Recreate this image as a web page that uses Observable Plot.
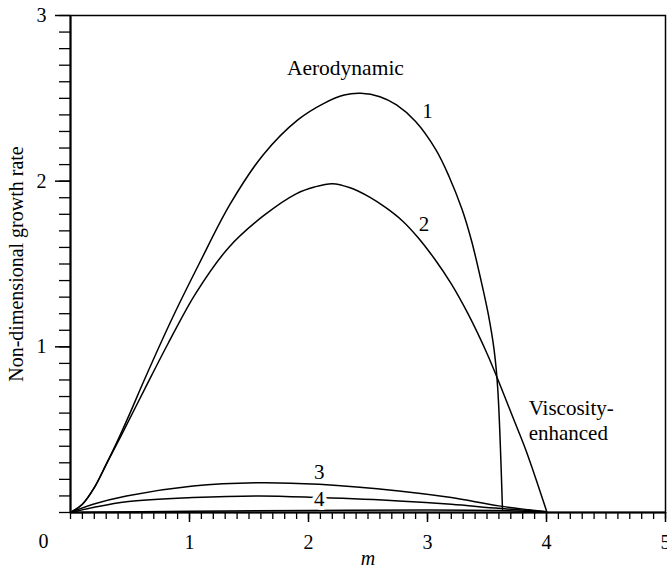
<!DOCTYPE html>
<html>
<head>
<meta charset="utf-8">
<script src="https://cdn.jsdelivr.net/npm/d3@7"></script>
<script src="https://cdn.jsdelivr.net/npm/@observablehq/plot@0.6"></script>
<style>
  html, body { margin: 0; padding: 0; background: #fff; }
  #chart { width: 667px; height: 567px; }
</style>
</head>
<body>
<div id="chart"></div>
<script>
// Curve 1 (aerodynamic, upper)
const curve1M = [0, 0.1, 0.2, 0.3, 0.4, 0.5, 0.62, 0.86, 1.08, 1.34, 1.62, 1.91, 2.13, 2.3, 2.44, 2.6, 2.74, 2.9, 3.07, 3.18, 3.29, 3.37, 3.45, 3.51, 3.56, 3.59, 3.63];
const curve1G = [0, 0.05, 0.15, 0.29, 0.44, 0.60, 0.80, 1.18, 1.50, 1.86, 2.16, 2.37, 2.47, 2.52, 2.53, 2.51, 2.46, 2.36, 2.19, 2.03, 1.83, 1.64, 1.40, 1.20, 0.98, 0.75, 0.02];
// Curve 2
const curve2M = [0, 0.1, 0.2, 0.3, 0.43, 0.62, 0.82, 1.05, 1.33, 1.62, 1.90, 2.05, 2.2, 2.35, 2.51, 2.65, 2.79, 2.92, 3.06, 3.2, 3.34, 3.50, 3.61, 3.72, 3.83, 4.0];
const curve2G = [0, 0.05, 0.15, 0.29, 0.47, 0.74, 1.02, 1.32, 1.60, 1.79, 1.925, 1.965, 1.985, 1.96, 1.905, 1.84, 1.76, 1.66, 1.53, 1.38, 1.20, 0.96, 0.77, 0.57, 0.37, 0.01];
// Curve 3
const curve3M = [0, 0.19, 0.47, 1.03, 1.59, 2.09, 2.76, 3.2, 3.6, 4.0];
const curve3G = [0, 0.05, 0.10, 0.16, 0.18, 0.17, 0.13, 0.09, 0.04, 0.005];
// Curve 4
const curve4M = [0, 0.19, 0.47, 1.03, 1.59, 2.09, 2.76, 3.2, 3.6, 4.0];
const curve4G = [0, 0.03, 0.065, 0.09, 0.10, 0.09, 0.07, 0.05, 0.025, 0.005];
// near-zero curve (unlabelled)
const curve5M = [0, 1, 2, 3, 3.6, 4.0];
const curve5G = [0, 0.008, 0.012, 0.015, 0.012, 0.003];

// Labels
const curveLabels = ["1", "2", "3"];
const curveLabelM = [3.0, 2.97, 2.09];
const curveLabelG = [2.42, 1.74, 0.24];
const aeroLabel = "Aerodynamic";
const aeroM = 2.31, aeroG = 2.68;
const viscLabel = "Viscosity-\nenhanced";
const viscM = 3.85, viscG = 0.56;

const xMajor = [1, 2, 3, 4, 5];
const yMajor = [1, 2, 3];
const xMinor = d3.range(0, 51).map(i => i / 10);
const yMinor = d3.range(0, 31).map(i => i / 10);

function toRows(ms, gs, id) { return ms.map((m, i) => ({m, g: gs[i], id})); }
const curves = [
  toRows(curve1M, curve1G, "1"),
  toRows(curve2M, curve2G, "2"),
  toRows(curve3M, curve3G, "3"),
  toRows(curve4M, curve4G, "4"),
  toRows(curve5M, curve5G, "5")
];

const font = "'Liberation Serif', 'Times New Roman', serif";

const chart = Plot.plot({
  width: 667,
  height: 567,
  marginLeft: 70,
  marginRight: 2,
  marginTop: 15,
  marginBottom: 55,
  style: {fontFamily: font, fontSize: "20px", color: "black", background: "white"},
  x: {domain: [0, 5]},
  y: {domain: [0, 3]},
  marks: [
    Plot.frame({stroke: "black", strokeWidth: 1.5}),
    // minor ticks
    Plot.axisX({ticks: xMinor, tickSize: 7, tickFormat: () => "", label: null, strokeWidth: 1.3}),
    Plot.axisY({ticks: yMinor, tickSize: 11, tickFormat: () => "", label: null, strokeWidth: 1.3}),
    // major ticks and labels
    Plot.axisX({ticks: xMajor, tickSize: 10, tickPadding: 12, label: null, strokeWidth: 1.5, tickFormat: d => String(d), fontFamily: font}),
    Plot.axisY({ticks: yMajor, tickSize: 15, tickPadding: 9, strokeWidth: 1.5, tickFormat: d => String(d), fontFamily: font,
      label: "Non-dimensional growth rate", labelAnchor: "center", labelArrow: "none", labelOffset: 62}),
    Plot.ruleX([0], {stroke: "black", strokeWidth: 2}),
    Plot.ruleY([0], {stroke: "black", strokeWidth: 2}),
    // curves
    ...curves.map(rows => Plot.line(rows, {x: "m", y: "g", stroke: "black", strokeWidth: 1.5, curve: "catmull-rom"})),
    // curve labels
    Plot.text(curveLabels, {x: (d, i) => curveLabelM[i], y: (d, i) => curveLabelG[i], text: d => d, fill: "black", fontSize: 21, fontFamily: font}),
    Plot.text(["4"], {x: [2.09], y: [0.08], text: d => d, fill: "black", fontSize: 21, fontFamily: font, stroke: "white", strokeWidth: 8}),
    Plot.text([aeroLabel], {x: [aeroM], y: [aeroG], text: d => d, fill: "black", fontSize: 21.5, fontFamily: font, textAnchor: "middle"}),
    Plot.text([viscLabel], {x: [viscM], y: [viscG], text: d => d, fill: "black", fontSize: 21, fontFamily: font, textAnchor: "start", lineHeight: 1.15}),
    // origin label
    Plot.text(["0"], {x: [0], y: [0], text: d => d, dx: -27, dy: 29, fill: "black", fontFamily: font}),
    // x axis label
    Plot.text(["m"], {frameAnchor: "bottom", dy: 52, text: d => d, fontStyle: "italic", fill: "black", fontFamily: font})
  ]
});
document.getElementById("chart").appendChild(chart);
</script>
</body>
</html>
